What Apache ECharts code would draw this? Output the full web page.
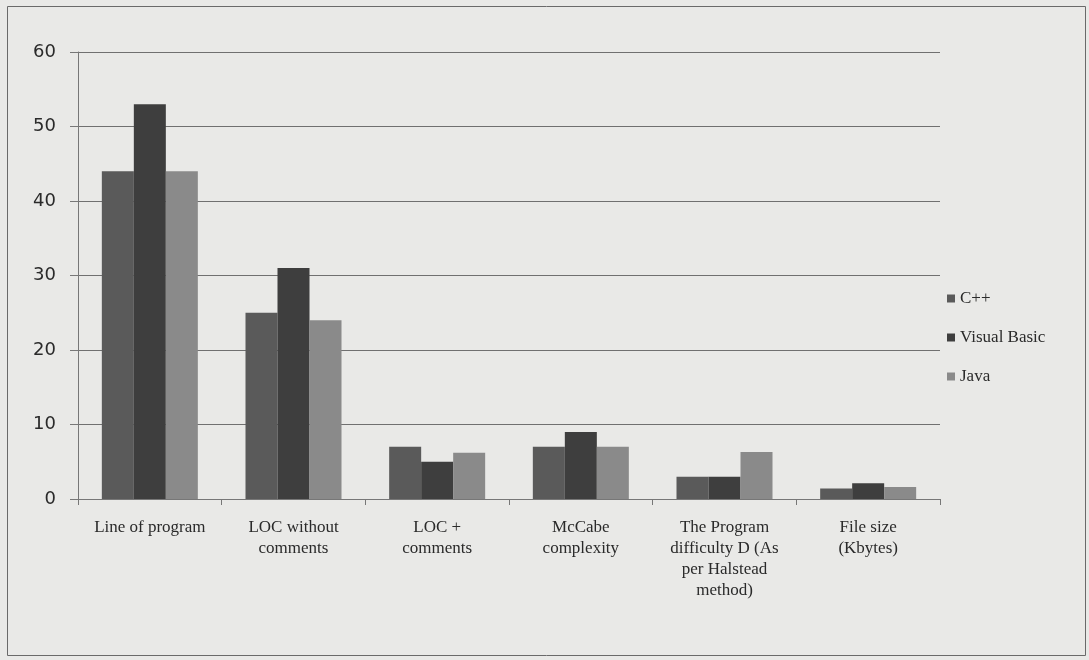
<!DOCTYPE html>
<html>
<head>
<meta charset="utf-8">
<script src="https://cdn.jsdelivr.net/npm/echarts@6/dist/echarts.min.js"></script>
<style>
  html, body { margin: 0; padding: 0; background: #e9e9e7; }
  #main { width: 1089px; height: 660px; }
</style>
</head>
<body>
<div id="main"></div>
<script>
var categories = ["Line of program", "LOC without\ncomments", "LOC +\ncomments", "McCabe\ncomplexity",
  "The Program\ndifficulty D (As\nper Halstead\nmethod)", "File size\n(Kbytes)"];
var cppValues = [44, 25, 7, 7, 3, 1.4];
var vbValues = [53, 31, 5, 9, 3, 2.1];
var javaValues = [44, 24, 6.2, 7, 6.3, 1.6];
var yTicks = [0, 10, 20, 30, 40, 50, 60];

var chart = echarts.init(document.getElementById("main"));
var font = "'Liberation Serif', 'DejaVu Serif', serif";

chart.setOption({
  backgroundColor: "#e9e9e7",
  color: ["#5a5a5a", "#3e3e3e", "#8a8a8a"],
  textStyle: { fontFamily: font, color: "#2a2a2a" },
  graphic: [{
    type: "rect",
    shape: { x: 7.5, y: 6.5, width: 1078, height: 649 },
    style: { fill: "none", stroke: "#6a6a6a", lineWidth: 1 }
  }],
  grid: { left: 78, right: 149, top: 52, bottom: 161 },
  legend: {
    orient: "vertical",
    left: 942,
    top: 285,
    itemWidth: 8,
    itemHeight: 8,
    itemGap: 22,
    icon: "rect",
    textStyle: { fontFamily: font, fontSize: 17, color: "#2a2a2a" },
    data: ["C++", "Visual Basic", "Java"]
  },
  xAxis: {
    type: "category",
    data: categories,
    axisLine: { lineStyle: { color: "#777" } },
    axisTick: { show: true, length: 6, lineStyle: { color: "#777" } },
    axisLabel: {
      interval: 0,
      margin: 18,
      fontFamily: font,
      fontSize: 17,
      lineHeight: 21,
      color: "#2a2a2a"
    }
  },
  yAxis: {
    type: "value",
    min: yTicks[0],
    max: yTicks[yTicks.length - 1],
    interval: 10,
    axisLine: { show: true, lineStyle: { color: "#777" } },
    axisTick: { show: true, inside: false, length: 8, lineStyle: { color: "#777" } },
    splitLine: { lineStyle: { color: "#707070", width: 1 } },
    axisLabel: { fontFamily: "'DejaVu Sans', sans-serif", fontSize: 18, color: "#2a2a2a", margin: 22 }
  },
  series: [
    { name: "C++", type: "bar", data: cppValues, barWidth: 32, barGap: "0%" },
    { name: "Visual Basic", type: "bar", data: vbValues, barWidth: 32, barGap: "0%" },
    { name: "Java", type: "bar", data: javaValues, barWidth: 32, barGap: "0%" }
  ]
});
</script>
</body>
</html>
